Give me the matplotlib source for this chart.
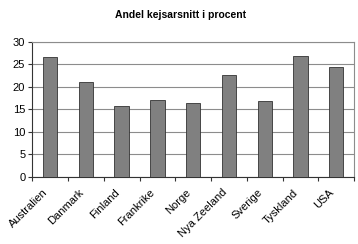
import matplotlib
matplotlib.use("Agg")
import matplotlib.pyplot as plt
import matplotlib.transforms as mtransforms
import numpy as np

categories = ["Australien", "Danmark", "Finland", "Frankrike", "Norge",
              "Nya Zeeland", "Sverige", "Tyskland", "USA"]
values = [26.5, 21.0, 15.7, 17.0, 16.3, 22.7, 16.8, 26.9, 24.3]
yticks = [0, 5, 10, 15, 20, 25, 30]
title = "Andel kejsarsnitt i procent"

plt.rcParams['font.family'] = ['Liberation Sans', 'DejaVu Sans']

fig = plt.figure(figsize=(3.58, 2.44), dpi=100)
ax = fig.add_axes([0.090, 0.275, 0.899, 0.554])
x = np.arange(len(categories))
ax.bar(x, values, width=0.4, color="#808080", edgecolor="#333333", linewidth=0.6, zorder=3)
ax.set_xlim(-0.5, len(categories) - 0.5)
ax.set_ylim(0, 30)
ax.set_yticks(yticks)
ax.set_yticklabels([str(v) for v in yticks], fontsize=8)
ax.yaxis.grid(True, color="#8c8c8c", linewidth=0.8, zorder=0)
ax.set_xticks(np.arange(len(categories) + 1) - 0.5)
ax.set_xticklabels([])
offset = mtransforms.ScaledTranslation(-0.04, -0.14, fig.dpi_scale_trans)
trans = ax.get_xaxis_transform() + offset
for xi, lab in zip(x, categories):
    ax.text(xi, 0, lab, transform=trans, rotation=45, ha="right", va="center",
            rotation_mode="anchor", fontsize=8, clip_on=False)
ax.tick_params(axis="x", length=3, color="#333333", direction="out")
ax.tick_params(axis="y", length=3, color="#333333", direction="out", pad=2)
for s in ["top", "right"]:
    ax.spines[s].set_color("#8c8c8c")
for s in ["left", "bottom"]:
    ax.spines[s].set_color("#333333")
for s in ax.spines.values():
    s.set_linewidth(0.8)
fig.text(0.503, 0.94, title, ha="center", va="center", fontsize=7.5, fontweight="bold")
fig.savefig("out.png", dpi=100)
